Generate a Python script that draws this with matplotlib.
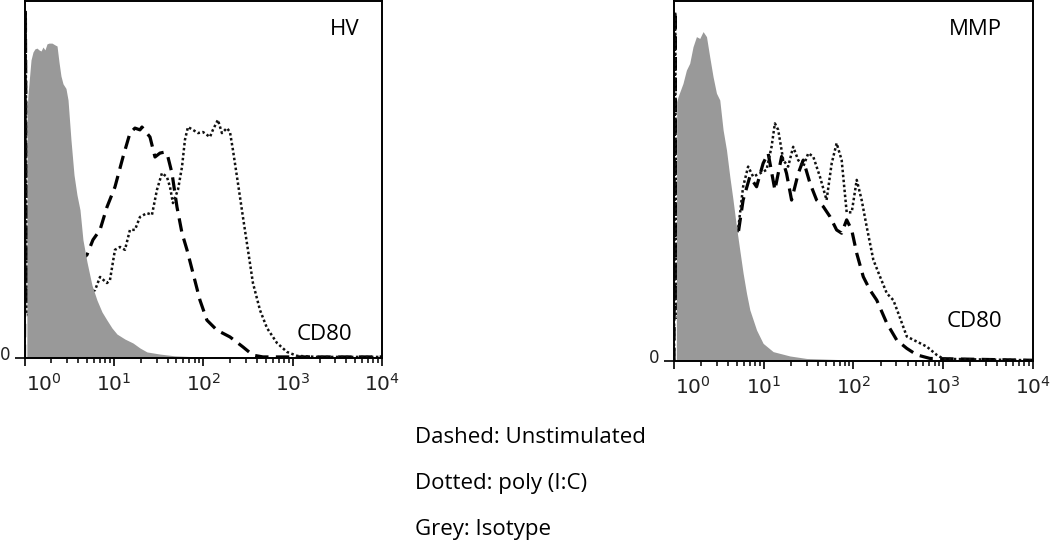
import matplotlib.pyplot as plt
import numpy as np
from matplotlib.ticker import LogLocator, NullFormatter
from matplotlib.transforms import ScaledTranslation

plt.rcParams['mathtext.fontset'] = 'custom'
plt.rcParams['mathtext.rm'] = 'Liberation Sans Narrow'
plt.rcParams['mathtext.it'] = 'Liberation Sans Narrow'

# x values are in decades of CD80 fluorescence (log10), y in % of the axis height

# HV panel
hv_iso_x = [0.0, 0.026, 0.030, 0.039, 0.073, 0.095, 0.117, 0.140, 0.162, 0.185, 0.207,
            0.229, 0.252, 0.274, 0.308, 0.341, 0.364, 0.386, 0.408, 0.431, 0.464, 0.487,
            0.520, 0.554, 0.587, 0.621, 0.654, 0.699, 0.755, 0.811, 0.867, 0.923, 0.979,
            1.035, 1.124, 1.214, 1.292, 1.370, 1.516, 1.683, 1.963, 2.522, 4.0]
hv_iso_y = [0, 0, 69.5, 73.7, 83.5, 85.7, 86.6, 86.8, 86.3, 86.0, 87.1,
            86.3, 88.0, 88.2, 88.2, 87.7, 87.4, 82.9, 79.0, 76.8, 75.5, 72.3,
            61.1, 51.3, 45.7, 41.5, 33.1, 26.9, 20.4, 16.2, 12.9, 10.6, 8.4,
            6.7, 5.3, 4.2, 2.8, 1.7, 1.1, 0.6, 0.3, 0.15, 0.15]

hv_unstim_x = [0.0, 0.010, 0.025, 0.3, 0.699, 0.766, 0.845, 0.923, 1.012, 1.102, 1.180,
               1.236, 1.292, 1.314, 1.404, 1.460, 1.516, 1.572, 1.605, 1.650, 1.706,
               1.762, 1.818, 1.885, 1.963, 2.041, 2.153, 2.299, 2.444, 2.556, 2.668, 4.0]
hv_unstim_y = [0, 97, 15, 20, 28.9, 33.1, 35.9, 42.3, 47.9, 56.3, 63.0,
               64.4, 63.9, 64.7, 61.9, 56.3, 57.4, 57.7, 56.3, 51.8, 42.3,
               35.0, 30.3, 23.8, 16.2, 10.6, 7.8, 5.9, 3.1, 0.8, 0.3, 0.3]

hv_polyic_x = [0.0, 0.012, 0.027, 0.4, 0.789, 0.845, 0.923, 0.956, 1.012, 1.068, 1.124,
               1.180, 1.236, 1.292, 1.370, 1.426, 1.482, 1.538, 1.594, 1.628, 1.661,
               1.717, 1.762, 1.795, 1.829, 1.885, 1.941, 1.997, 2.075, 2.108, 2.164,
               2.209, 2.265, 2.299, 2.332, 2.388, 2.444, 2.500, 2.556, 2.635, 2.713,
               2.825, 2.937, 3.049, 3.272, 4.0]
hv_polyic_y = [0, 97, 12, 15, 19.0, 22.7, 21.0, 21.8, 30.3, 31.1, 30.3,
               35.9, 35.9, 39.5, 40.6, 40.1, 47.1, 51.8, 50.7, 47.9, 43.4,
               47.1, 53.5, 61.1, 64.7, 63.9, 63.0, 63.3, 61.9, 63.9, 66.7,
               63.0, 64.4, 63.3, 58.3, 49.0, 39.5, 30.3, 21.0, 13.4, 8.4,
               4.2, 1.7, 0.6, 0.3, 0.3]

# MMP panel
mmp_iso_x = [0.0, 0.026, 0.030, 0.045, 0.100, 0.138, 0.175, 0.212, 0.250, 0.287, 0.324, 0.362,
             0.398, 0.435, 0.473, 0.510, 0.547, 0.585, 0.622, 0.658, 0.696, 0.733,
             0.770, 0.808, 0.845, 0.920, 0.993, 1.105, 1.291, 1.478, 1.961, 4.0]
mmp_iso_y = [0, 0, 72.0, 73.4, 77.1, 80.8, 82.7, 87.3, 90.1, 89.6, 91.5, 90.1,
             84.5, 79.0, 74.4, 72.5, 64.2, 58.6, 51.2, 44.7, 37.3, 30.8,
             24.4, 18.8, 14.2, 8.6, 4.9, 2.6, 1.4, 0.7, 0.3, 0.2]

mmp_unstim_x = [0.0, 0.010, 0.025, 0.4, 0.714, 0.770, 0.845, 0.920, 0.993, 1.049, 1.124,
                1.199, 1.254, 1.310, 1.384, 1.440, 1.515, 1.589, 1.663, 1.738, 1.812,
                1.868, 1.924, 1.980, 2.036, 2.109, 2.184, 2.259, 2.371, 2.482, 2.594,
                2.705, 2.854, 4.0]
mmp_unstim_y = [0, 97, 15, 20, 35.2, 44.7, 51.2, 48.4, 54.9, 57.7, 47.5,
                56.8, 52.1, 44.7, 52.1, 55.8, 49.4, 44.7, 42.9, 40.1, 36.4,
                35.5, 39.2, 36.4, 29.9, 23.4, 19.7, 16.9, 10.5, 5.8, 3.5,
                1.7, 0.7, 0.2]

mmp_polyic_x = [0.0, 0.012, 0.027, 0.4, 0.714, 0.770, 0.826, 0.882, 0.956, 1.031, 1.087,
                1.124, 1.161, 1.217, 1.272, 1.328, 1.384, 1.440, 1.496, 1.551, 1.626,
                1.700, 1.757, 1.812, 1.868, 1.924, 1.980, 2.036, 2.091, 2.147, 2.221,
                2.296, 2.371, 2.444, 2.500, 2.594, 2.705, 2.816, 2.927, 3.002, 4.0]
mmp_polyic_y = [0, 97, 12, 15, 36.4, 48.4, 54.0, 51.2, 52.1, 53.1, 59.5,
                66.0, 64.2, 55.8, 54.0, 59.5, 55.8, 54.0, 57.7, 56.8, 51.2,
                44.7, 54.9, 60.5, 55.8, 41.3, 41.3, 50.3, 44.7, 37.3, 28.1,
                23.4, 18.8, 16.9, 13.2, 6.8, 5.4, 4.0, 1.7, 0.6, 0.2]

decades = [0, 1, 2, 3, 4]
legend_lines = ["Dashed: Unstimulated", "Dotted: poly (I:C)", "Grey: Isotype"]

fig = plt.figure(figsize=(10.5, 5.42), dpi=100)
W, H = 1050, 542


def panel(left, right, top, bottom, iso, unstim, polyic):
    ax = fig.add_axes([left / W, 1 - bottom / H, (right - left) / W, (bottom - top) / H])
    ax.plot(np.power(10.0, unstim[0]), unstim[1], color='black', lw=2.3,
            dashes=(4.2, 2.3), zorder=1)
    ax.plot(np.power(10.0, polyic[0]), polyic[1], color='#111111', lw=1.8,
            dashes=(1, 1), zorder=1)
    ax.fill_between(np.power(10.0, iso[0]), iso[1], 0, color='#999999', lw=0, zorder=2)
    ax.set_xscale('log')
    ax.set_xlim(1, 1e4)
    ax.set_ylim(0, 100)
    ax.set_xticks(np.power(10.0, decades), labels=[f'$10^{{{d}}}$' for d in decades])
    ax.xaxis.set_minor_locator(LogLocator(base=10, subs=np.arange(2, 10)))
    ax.xaxis.set_minor_formatter(NullFormatter())
    ax.tick_params(axis='x', which='major', direction='out', length=6, width=1.2,
                   pad=4.5, labelsize=14.5, labelcolor='#222222')
    ax.tick_params(axis='x', which='minor', direction='out', length=3.5, width=1.1)
    ax.set_yticks([0], labels=['0'])
    ax.tick_params(axis='y', direction='out', length=7.5, width=1.2, pad=3,
                   labelsize=12, labelcolor='#222222')
    for s in ax.spines.values():
        s.set_linewidth(1.4)
    first = ax.get_xticklabels()[0]
    first.set_transform(first.get_transform() + ScaledTranslation(0.19, 0, fig.dpi_scale_trans))
    ylab = ax.get_yticklabels()[0]
    ylab.set_transform(ylab.get_transform() + ScaledTranslation(0, 0.05, fig.dpi_scale_trans))
    return ax


ax1 = panel(24.5, 382, 1, 358, (hv_iso_x, hv_iso_y), (hv_unstim_x, hv_unstim_y),
            (hv_polyic_x, hv_polyic_y))
ax1.text(0.938, 0.905, 'HV', transform=ax1.transAxes, ha='right', va='baseline',
         fontsize=16, family='Open Sans')
ax1.text(0.916, 0.05, 'CD80', transform=ax1.transAxes, ha='right', va='baseline',
         fontsize=16, family='Open Sans')

ax2 = panel(674, 1033, 1, 361, (mmp_iso_x, mmp_iso_y), (mmp_unstim_x, mmp_unstim_y),
            (mmp_polyic_x, mmp_polyic_y))
ax2.text(0.914, 0.906, 'MMP', transform=ax2.transAxes, ha='right', va='baseline',
         fontsize=16, family='Open Sans')
ax2.text(0.914, 0.094, 'CD80', transform=ax2.transAxes, ha='right', va='baseline',
         fontsize=16, family='Open Sans')

for i, line in enumerate(legend_lines):
    fig.text(415 / W, 1 - (443 + 46 * i) / H, line, ha='left', va='baseline',
             fontsize=16, family='Open Sans')

fig.savefig('out.png', dpi=100)
